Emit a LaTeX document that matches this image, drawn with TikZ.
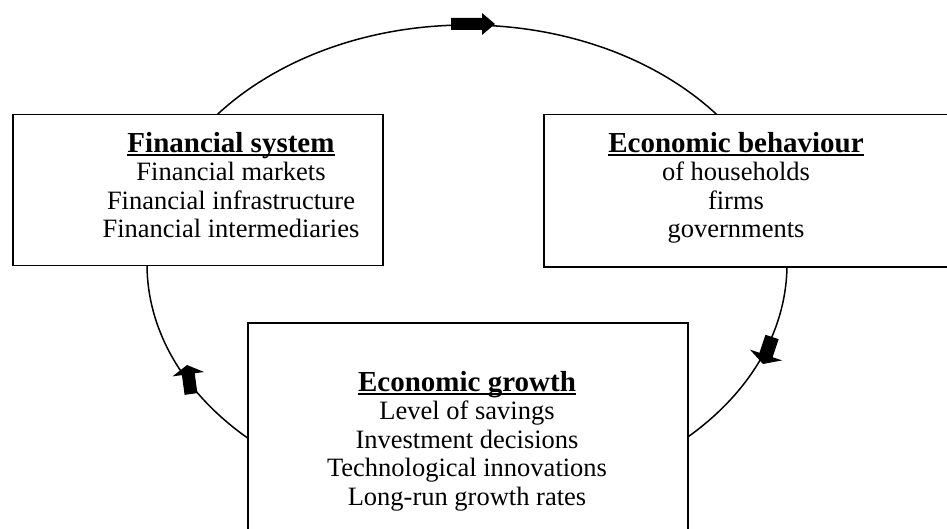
\documentclass[tikz,border=0pt]{standalone}
\usepackage{fontspec}
\setmainfont{Liberation Serif}
\newcommand\myul[1]{\setbox0\hbox{#1}\rlap{\rule[-3.5pt]{\wd0}{2pt}}\box0}
\newcommand\ttl[1]{{\fontsize{29}{28.5}\selectfont\bfseries\myul{#1}}}
\tikzset{
  box/.style={draw, line width=1.5pt, fill=white, inner sep=0pt, anchor=north west},
  body/.style={font=\fontsize{26.5}{28.5}\selectfont, align=center, inner sep=0pt, anchor=north},
  flow/.style={line width=1.5pt},
  blockarrow/.style={fill=black},
}
\begin{document}
\begin{tikzpicture}[x=1pt,y=-1pt]
\useasboundingbox (0,0) rectangle (947,529);
\clip (0,0) rectangle (947,529);
% cycle
\draw[flow] (467,264) ellipse [x radius=320pt, y radius=239pt];
% boxes
\node[box, minimum width=370pt, minimum height=151pt] (finbox) at (12,114) {};
\node[box, minimum width=420pt, minimum height=152pt] (behbox) at (543,114) {};
\node[box, minimum width=440pt, minimum height=230pt] (grobox) at (247,322) {};
% texts
\node[body] (fintext) at (231,132) {\ttl{Financial system}\\Financial markets\\Financial infrastructure\\Financial intermediaries};
\node[body] (behtext) at (736,132) {\ttl{Economic behaviour}\\of households\\firms\\governments};
\node[body] (grotext) at (467,371) {\ttl{Economic growth}\\Level of savings\\Investment decisions\\Technological innovations\\Long-run growth rates};
% block arrows on the cycle
\fill[blockarrow] (451,18) -- (482,18) -- (482,13) -- (495,24) -- (482,35) -- (482,30) -- (451,30) -- cycle;
\fill[blockarrow] (184.6,394.9) -- (181.9,375.1) -- (172.5,376.4) -- (187,365) -- (204.1,372.0) -- (194.7,373.3) -- (197.4,393.1) -- cycle;
\fill[blockarrow] (765.4,334.8) -- (759.4,352.8) -- (749.9,349.6) -- (763,364) -- (782.1,360.4) -- (772.6,357.2) -- (778.6,339.2) -- cycle;
\end{tikzpicture}
\end{document}
